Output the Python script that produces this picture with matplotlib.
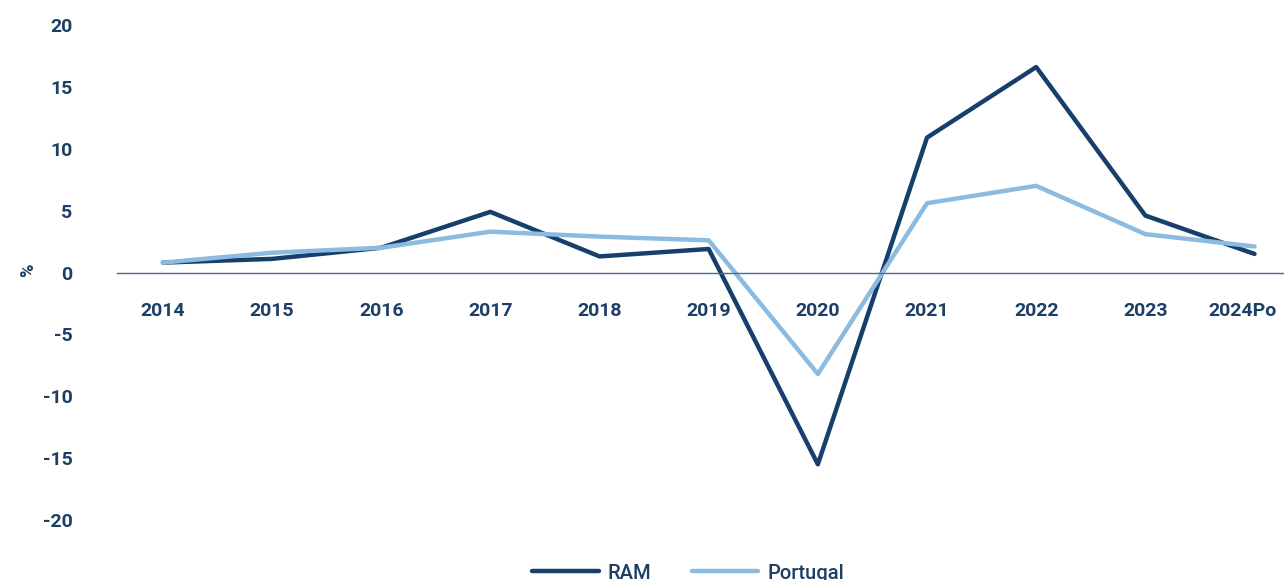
import numpy as np
import matplotlib.pyplot as plt
import matplotlib.transforms as mtransforms

# dados
anos = ['2014', '2015', '2016', '2017', '2018', '2019', '2020', '2021', '2022', '2023', '2024Po']
ram = [0.8, 1.1, 2.0, 4.9, 1.3, 1.9, -15.5, 10.9, 16.6, 4.6, 1.5]
portugal = [0.8, 1.6, 2.0, 3.3, 2.9, 2.6, -8.2, 5.6, 7.0, 3.1, 2.1]

cor_ram = '#173f6b'
cor_pt = '#8bbbe0'
cor_txt = '#1d3f66'

plt.rcParams['font.family'] = ['Roboto', 'DejaVu Sans']
plt.rcParams['axes.unicode_minus'] = False

fig = plt.figure(figsize=(12.84, 5.8), dpi=100)
ax = fig.add_axes([117 / 1284, 60 / 580, 1 - 117 / 1284, 495 / 580])

x = np.arange(len(anos))
ax.plot(x, ram, color=cor_ram, lw=3.2, label='RAM', solid_capstyle='round', clip_on=False)
ax.plot(x, portugal, color=cor_pt, lw=3.2, label='Portugal', solid_capstyle='round', clip_on=False)

ax.set_xlim(-0.42, 10.27)
ax.set_ylim(-20, 20)
ax.set_yticks(np.arange(-20, 21, 5))
ax.set_xticks(x)
ax.set_xticklabels(anos)

for s in ['top', 'right', 'left']:
    ax.spines[s].set_visible(False)
ax.spines['bottom'].set_position(('data', 0))
ax.spines['bottom'].set_color('#4a6a90')
ax.spines['bottom'].set_linewidth(1.0)

ax.tick_params(axis='x', length=0, pad=21, labelsize=14, labelcolor=cor_txt)
ax.tick_params(axis='y', length=0, pad=32, labelsize=14, labelcolor=cor_txt)
for lab in ax.get_xticklabels() + ax.get_yticklabels():
    lab.set_fontweight('bold')

# o último rótulo fica encostado à margem direita
ultimo = ax.get_xticklabels()[-1]
ultimo.set_transform(ultimo.get_transform() +
                     mtransforms.ScaledTranslation(-12 / 100, 0, fig.dpi_scale_trans))

fig.text(28 / 1284, 1 - 270 / 580, '%', rotation=90, ha='center', va='center',
         fontsize=13, fontweight='bold', color=cor_txt)

leg = fig.legend(loc='center', bbox_to_anchor=(0.536, 0.012), ncol=2, frameon=False,
                 fontsize=14.5, handlelength=3.3, handletextpad=0.45, columnspacing=2.0)
for t in leg.get_texts():
    t.set_color(cor_txt)
    t.set_fontweight('medium')

fig.savefig('out.png', dpi=100)
